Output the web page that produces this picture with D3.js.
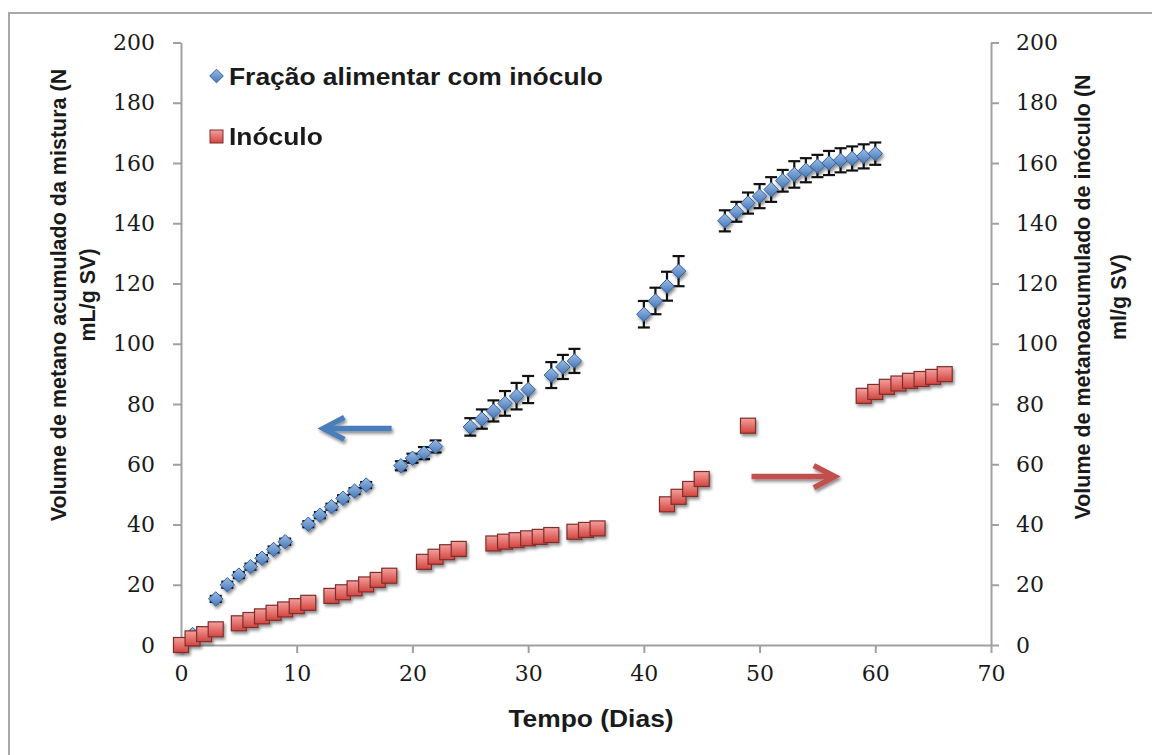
<!DOCTYPE html>
<html>
<head>
<meta charset="utf-8">
<script src="https://cdn.jsdelivr.net/npm/d3@7"></script>
<style>
  body { margin: 0; background: #fff; }
  svg { display: block; }
</style>
</head>
<body>
<svg id="chart" width="1152" height="755"></svg>
<script>
// Cumulative methane of the feed fraction + inoculum mixture (left axis)
const mixDays = [0, 1, 3, 4, 5, 6, 7, 8, 9, 11, 12, 13, 14, 15, 16, 19, 20, 21, 22,
  25, 26, 27, 28, 29, 30, 32, 33, 34, 40, 41, 42, 43,
  47, 48, 49, 50, 51, 52, 53, 54, 55, 56, 57, 58, 59, 60];
const mixValues = [0, 3.5, 15.3, 20.0, 23.2, 26.0, 28.8, 31.7, 34.3, 40.1, 43.1, 45.9, 48.7, 51.1, 53.1,
  59.5, 62.0, 63.7, 65.9, 72.4, 75.0, 77.7, 80.2, 82.6, 84.8, 89.6, 92.3, 94.3,
  109.8, 114.2, 119.1, 124.1,
  140.8, 143.8, 146.7, 149.0, 151.2, 154.1, 156.2, 157.6, 159.0, 160.0, 160.9, 161.5, 162.2, 163.1];
const mixErrors = [0, 0.5, 1, 1, 1, 1, 1, 1, 1, 1, 1, 1, 1, 1, 1,
  1.5, 1.5, 2, 2, 2.9, 3.2, 3.5, 4.1, 4.4, 4.5, 4.3, 4, 4,
  4.4, 4.4, 4.8, 5,
  3.5, 3.3, 3.5, 4, 4.1, 3.6, 4.4, 4, 3.7, 4, 4, 4, 4, 3.7];

// Cumulative methane of the inoculum alone (right axis)
const inocDays = [0, 1, 2, 3, 5, 6, 7, 8, 9, 10, 11, 13, 14, 15, 16, 17, 18,
  21, 22, 23, 24, 27, 28, 29, 30, 31, 32, 34, 35, 36, 42, 43, 44, 45, 49,
  59, 60, 61, 62, 63, 64, 65, 66];
const inocValues = [0, 2.2, 3.6, 5.2, 7.2, 8.3, 9.5, 10.7, 11.8, 12.9, 14.0, 16.3, 17.5, 18.8, 20.1, 21.6, 23.0,
  27.6, 29.3, 30.8, 31.9, 33.7, 34.3, 34.8, 35.4, 35.9, 36.5, 37.6, 38.2, 38.7,
  46.7, 49.2, 51.8, 55.1, 72.8,
  82.7, 84.0, 85.7, 86.8, 87.7, 88.3, 89.0, 89.9];

const xTicks = [0, 10, 20, 30, 40, 50, 60, 70];
const yTicks = [0, 20, 40, 60, 80, 100, 120, 140, 160, 180, 200];

const legendLabels = ["Fração alimentar com inóculo", "Inóculo"];
const xTitle = "Tempo (Dias)";
const leftTitle = ["Volume de metano acumulado da mistura (N", "mL/g SV)"];
const rightTitle = ["Volume de metanoacumulado de inóculo (N", "ml/g SV)"];

// Arrows pointing each series to its axis, in data units [day from, day to, value]
const leftArrow = [18.2, 12.3, 71.9];
const rightArrow = [49.3, 56.5, 55.9];

const svg = d3.select("#chart");
const W = 1152, H = 755;

const x = d3.scaleLinear().domain([0, 70]).range([181, 991]);
const yL = d3.scaleLinear().domain([0, 200]).range([645, 42.5]);
const yR = d3.scaleLinear().domain([0, 200]).range([645, 42.5]);

const defs = svg.append("defs");
const shadow = defs.append("filter").attr("id", "shadow")
  .attr("x", "-50%").attr("y", "-50%").attr("width", "200%").attr("height", "200%");
shadow.append("feDropShadow").attr("dx", 1.5).attr("dy", 2.5)
  .attr("stdDeviation", 1.6).attr("flood-color", "#000").attr("flood-opacity", 0.45);

const gBlue = defs.append("linearGradient").attr("id", "gBlue")
  .attr("x1", 0).attr("y1", 0).attr("x2", 0).attr("y2", 1);
gBlue.append("stop").attr("offset", "0%").attr("stop-color", "#9cbde6");
gBlue.append("stop").attr("offset", "100%").attr("stop-color", "#4677b8");

const gRed = defs.append("linearGradient").attr("id", "gRed")
  .attr("x1", 0).attr("y1", 0).attr("x2", 0).attr("y2", 1);
gRed.append("stop").attr("offset", "0%").attr("stop-color", "#f4a09d");
gRed.append("stop").attr("offset", "100%").attr("stop-color", "#d3443f");

// outer frame
svg.append("rect").attr("x", 9).attr("y", 13).attr("width", W).attr("height", H)
  .attr("fill", "none").attr("stroke", "#a8a8a8").attr("stroke-width", 2);

const axisColor = "#a0a0a0";
const tickFont = "'DejaVu Serif', serif";

function styleAxis(g) {
  g.select(".domain").attr("stroke", axisColor).attr("stroke-width", 2);
  g.selectAll(".tick line").attr("stroke", axisColor).attr("stroke-width", 2);
  g.selectAll(".tick text").attr("fill", "#1a1a1a")
    .style("font-family", tickFont).style("font-size", "22px");
}

svg.append("g").attr("transform", "translate(0,645)")
  .call(d3.axisBottom(x).tickValues(xTicks).tickSize(8).tickSizeOuter(0).tickPadding(12).tickFormat(d3.format("d")))
  .call(styleAxis);

svg.append("g").attr("transform", "translate(181,0)")
  .call(d3.axisLeft(yL).tickValues(yTicks).tickSize(8).tickSizeOuter(0).tickPadding(18).tickFormat(d3.format("d")))
  .call(styleAxis);

svg.append("g").attr("transform", "translate(991,0)")
  .call(d3.axisRight(yR).tickValues(yTicks).tickSize(8).tickSizeOuter(0).tickPadding(17).tickFormat(d3.format("d")))
  .call(styleAxis);

const labelFont = "'Liberation Sans', Arial, sans-serif";

// axis titles (horizontal labels are set slightly wide)
svg.append("text").attr("transform", `translate(${x(35) + 5},727) scale(1.1,1)`)
  .attr("text-anchor", "middle")
  .style("font-family", labelFont).style("font-weight", "bold").style("font-size", "24px")
  .attr("fill", "#1a1a1a").text(xTitle);

function rotatedTitle(lines, xs, cy) {
  lines.forEach((t, i) => {
    svg.append("text").attr("transform", `translate(${xs[i]},${cy}) rotate(-90)`)
      .attr("text-anchor", "middle")
      .style("font-family", labelFont).style("font-weight", "bold").style("font-size", "21.5px")
      .attr("fill", "#1a1a1a").text(t);
  });
}
rotatedTitle(leftTitle, [66, 95], 295);
rotatedTitle(rightTitle, [1090, 1126], 297);

// series 1 error bars
const mix = mixDays.map((d, i) => ({ d, v: mixValues[i], e: mixErrors[i] }));
const inoc = inocDays.map((d, i) => ({ d, v: inocValues[i] }));

const eb = svg.append("g").attr("stroke", "#111").attr("stroke-width", 2.2);
const cap = 6;
mix.filter(p => p.e > 0).forEach(p => {
  const cx = x(p.d), y1 = yL(p.v + p.e), y0 = yL(p.v - p.e);
  eb.append("line").attr("x1", cx).attr("x2", cx).attr("y1", y1).attr("y2", y0);
  eb.append("line").attr("x1", cx - cap).attr("x2", cx + cap).attr("y1", y1).attr("y2", y1);
  eb.append("line").attr("x1", cx - cap).attr("x2", cx + cap).attr("y1", y0).attr("y2", y0);
});

const diamond = r => `M0,${-r}L${r},0L0,${r}L${-r},0Z`;

svg.append("g").attr("filter", "url(#shadow)")
  .selectAll("path").data(mix).join("path")
  .attr("transform", p => `translate(${x(p.d)},${yL(p.v)})`)
  .attr("d", diamond(7.2))
  .attr("fill", "url(#gBlue)").attr("stroke", "#31609a").attr("stroke-width", 1);

svg.append("g").attr("filter", "url(#shadow)")
  .selectAll("rect").data(inoc).join("rect")
  .attr("x", p => x(p.d) - 7.5).attr("y", p => yR(p.v) - 7.5)
  .attr("width", 15).attr("height", 15)
  .attr("fill", "url(#gRed)").attr("stroke", "#7e2e2c").attr("stroke-width", 1.2);

// arrows
function arrow(a, scaleY, color) {
  const x0 = x(a[0]), x1 = x(a[1]), yy = scaleY(a[2]);
  const dir = Math.sign(x1 - x0);
  const g = svg.append("g").attr("filter", "url(#shadow)")
    .attr("stroke", color).attr("stroke-width", 5.5).attr("fill", "none").attr("stroke-linecap", "butt");
  g.append("path").attr("d", `M${x0},${yy}L${x1 - dir * 2},${yy}`);
  g.append("path").attr("d", `M${x1 - dir * 21},${yy - 11}L${x1},${yy}L${x1 - dir * 21},${yy + 11}`)
    .attr("stroke-linejoin", "miter");
}
arrow(leftArrow, yL, "#4a7ebb");
arrow(rightArrow, yR, "#c0504d");

// legend
const lg = svg.append("g");
lg.append("path").attr("transform", "translate(216.5,76)").attr("d", diamond(6.8))
  .attr("fill", "url(#gBlue)").attr("stroke", "#31609a").attr("stroke-width", 1);
lg.append("rect").attr("x", 210).attr("y", 130).attr("width", 13).attr("height", 13)
  .attr("fill", "url(#gRed)").attr("stroke", "#7e2e2c").attr("stroke-width", 1);
lg.selectAll("text").data(legendLabels).join("text")
  .attr("transform", (d, i) => `translate(229,${84.5 + i * 60}) scale(1.1,1)`)
  .style("font-family", labelFont).style("font-weight", "bold").style("font-size", "24px")
  .attr("fill", "#1a1a1a").text(d => d);
</script>
</body>
</html>
